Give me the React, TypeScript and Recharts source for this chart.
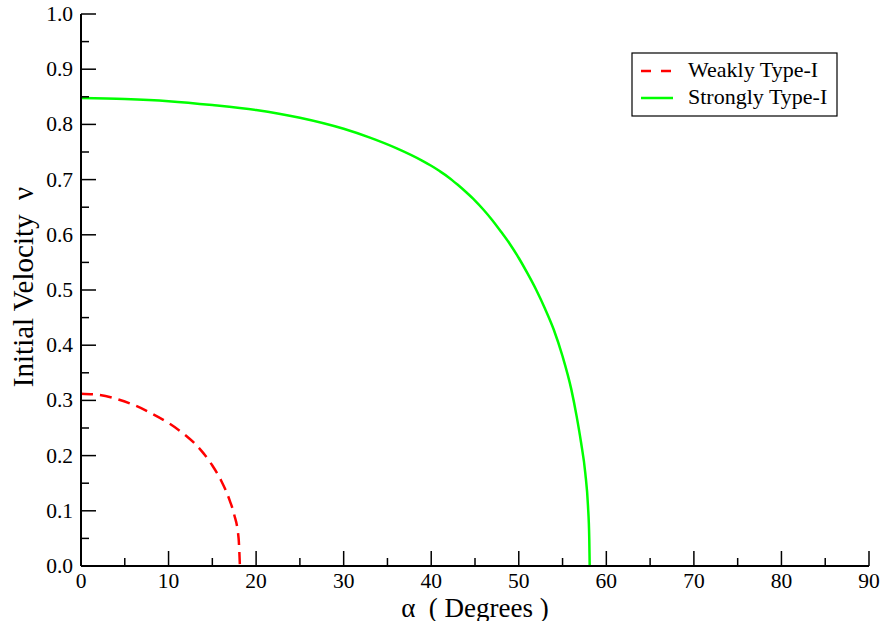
import React from "react";
import { LineChart, Line, XAxis, YAxis, Legend } from "recharts";

const weakAlpha = [0, 2, 4, 6, 8, 10, 12, 13, 14, 15, 16, 17, 17.5, 18, 18.15];
const weakV = [0.312, 0.31, 0.303, 0.292, 0.277, 0.259, 0.236, 0.222, 0.204, 0.182, 0.155, 0.118, 0.093, 0.05, 0.0];

const strongAlpha = [0, 5, 10, 15, 20, 25, 30, 33, 36, 39, 40, 41, 42, 43, 44, 45, 46, 47, 48, 49, 50, 51, 52, 53, 54, 55, 56, 56.6, 57.1, 57.6, 57.9, 58.05, 58.1];
const strongV = [0.848, 0.846, 0.842, 0.835, 0.826, 0.812, 0.792, 0.776, 0.757, 0.734, 0.725, 0.715, 0.704, 0.691, 0.677, 0.662, 0.645, 0.626, 0.605, 0.583, 0.558, 0.53, 0.5, 0.466, 0.428, 0.38, 0.32, 0.272, 0.225, 0.168, 0.11, 0.05, 0.0];

const xTicks = [0, 5, 10, 15, 20, 25, 30, 35, 40, 45, 50, 55, 60, 65, 70, 75, 80, 85, 90];
const yTicks = [0, 0.05, 0.1, 0.15, 0.2, 0.25, 0.3, 0.35, 0.4, 0.45, 0.5, 0.55, 0.6, 0.65, 0.7, 0.75, 0.8, 0.85, 0.9, 0.95, 1.0];

const weakData = weakAlpha.map((a, i) => ({ a, v: weakV[i] }));
const strongData = strongAlpha.map((a, i) => ({ a, v: strongV[i] }));

const FONT = '"Liberation Serif", "Times New Roman", Times, serif';
const MAJOR = 15;
const MINOR = 8;

const isMajorX = (v: number) => Math.abs(v / 10 - Math.round(v / 10)) < 1e-6;
const isMajorY = (v: number) => Math.abs(v * 10 - Math.round(v * 10)) < 1e-6;

const txt = { fontFamily: FONT, fill: "#000" } as const;

const BottomTick = (props: any) => {
  const { x, y, payload } = props;
  const v = payload.value;
  const major = isMajorX(v);
  return (
    <g>
      <line x1={x} y1={y} x2={x} y2={y - (major ? MAJOR : MINOR)} stroke="#000" strokeWidth={1.5} />
      {major && (
        <text x={x} y={y + 22} textAnchor="middle" fontSize={21.5} fontFamily={FONT} style={txt}>
          {v}
        </text>
      )}
    </g>
  );
};

const TopTick = (props: any) => {
  const { x, y, payload } = props;
  const major = isMajorX(payload.value);
  return <line x1={x} y1={y} x2={x} y2={y + (major ? MAJOR : MINOR)} stroke="#000" strokeWidth={1.5} />;
};

const LeftTick = (props: any) => {
  const { x, y, payload } = props;
  const v = payload.value;
  const major = isMajorY(v);
  return (
    <g>
      <line x1={x} y1={y} x2={x + (major ? MAJOR : MINOR)} y2={y} stroke="#000" strokeWidth={1.5} />
      {major && (
        <text x={x - 8} y={y + 7} textAnchor="end" fontSize={21.5} fontFamily={FONT} style={txt}>
          {v.toFixed(1)}
        </text>
      )}
    </g>
  );
};

const RightTick = (props: any) => {
  const { x, y, payload } = props;
  const major = isMajorY(payload.value);
  return <line x1={x} y1={y} x2={x - (major ? MAJOR : MINOR)} y2={y} stroke="#000" strokeWidth={1.5} />;
};

const LegendBox = () => (
  <svg width={208} height={66} style={{ display: "block" }}>
    <rect x={1} y={1} width={205} height={63} fill="#fff" stroke="#000" strokeWidth={1.2} />
    <line x1={10} y1={19} x2={42} y2={19} stroke="#ff0000" strokeWidth={2.5} strokeDasharray="10 10" />
    <text x={57} y={25} fontSize={22} fontFamily={FONT} style={txt}>Weakly Type-I</text>
    <line x1={10} y1={46} x2={42} y2={46} stroke="#00ff00" strokeWidth={2.5} />
    <text x={57} y={52} fontSize={22} fontFamily={FONT} style={txt}>Strongly Type-I</text>
  </svg>
);

const XLabel = (props: any) => {
  const vb = props.viewBox;
  const cx = vb.x + vb.width / 2;
  return (
    <text x={cx} y={617} textAnchor="middle" fontSize={27} fontFamily={FONT} style={{ ...txt, whiteSpace: "pre" }}>
      {"α  ( Degrees )"}
    </text>
  );
};

const YLabel = (props: any) => {
  const vb = props.viewBox;
  const cy = vb.y + vb.height / 2 - 3;
  const x = 33;
  return (
    <text
      x={x}
      y={cy}
      textAnchor="middle"
      transform={`rotate(-90, ${x}, ${cy})`}
      fontSize={29}
      fontFamily={FONT}
      style={{ ...txt, whiteSpace: "pre" }}
    >
      {"Initial Velocity  ν"}
    </text>
  );
};

export default function App() {
  return (
    <div style={{ position: "absolute", left: 0, top: 0, background: "#fff", fontFamily: FONT }}>
      <LineChart width={883} height={621} margin={{ top: 14, right: 14, bottom: 0, left: 0 }}>
        <XAxis
          xAxisId="b"
          dataKey="a"
          type="number"
          domain={[0, 90]}
          ticks={xTicks}
          interval={0}
          allowDataOverflow
          height={55}
          tickSize={0}
          tickMargin={0}
          tickLine={false}
          axisLine={{ stroke: "#000", strokeWidth: 2 }}
          tick={<BottomTick />}
          label={<XLabel />}
        />
        <XAxis
          xAxisId="t"
          orientation="top"
          dataKey="a"
          type="number"
          domain={[0, 90]}
          ticks={xTicks}
          interval={0}
          height={0}
          tickSize={0}
          tickMargin={0}
          tickLine={false}
          axisLine={{ stroke: "#000", strokeWidth: 2 }}
          tick={<TopTick />}
        />
        <YAxis
          yAxisId="l"
          type="number"
          domain={[0, 1]}
          ticks={yTicks}
          interval={0}
          allowDataOverflow
          width={81}
          tickSize={0}
          tickMargin={0}
          tickLine={false}
          axisLine={{ stroke: "#000", strokeWidth: 2 }}
          tick={<LeftTick />}
          label={<YLabel />}
        />
        <YAxis
          yAxisId="r"
          orientation="right"
          type="number"
          domain={[0, 1]}
          ticks={yTicks}
          interval={0}
          width={0}
          tickSize={0}
          tickMargin={0}
          tickLine={false}
          axisLine={{ stroke: "#000", strokeWidth: 2 }}
          tick={<RightTick />}
        />
        <Legend
          layout="horizontal"
          verticalAlign="middle"
          align="center"
          wrapperStyle={{ left: 631, top: 52, width: 208, height: 66 }}
          content={<LegendBox />}
        />
        <Line
          xAxisId="b"
          yAxisId="l"
          data={weakData}
          dataKey="v"
          type="monotone"
          stroke="#ff0000"
          strokeWidth={2.5}
          strokeDasharray="12 7"
          dot={false}
          activeDot={false}
          isAnimationActive={false}
          name="Weakly Type-I"
        />
        <Line
          xAxisId="b"
          yAxisId="l"
          data={strongData}
          dataKey="v"
          type="monotone"
          stroke="#00ff00"
          strokeWidth={2.5}
          dot={false}
          activeDot={false}
          isAnimationActive={false}
          name="Strongly Type-I"
        />
      </LineChart>
    </div>
  );
}
